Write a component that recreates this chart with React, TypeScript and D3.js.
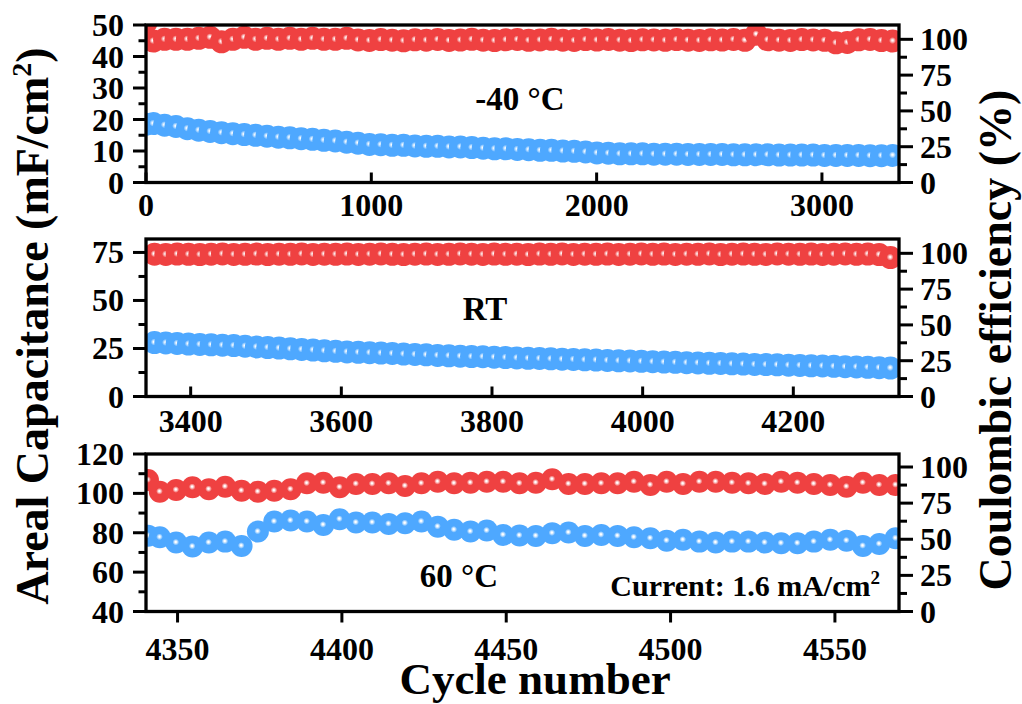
import React from "react";
import * as d3 from "d3";

const WIDTH = 1022;
const HEIGHT = 704;
const FONT = '"Liberation Serif", "Times New Roman", serif';
const RED = "#ef4141";
const BLUE = "#4ea8ff";

const PLOT_L = 146;
const PLOT_R = 899;
const PANEL_H = 157.5;

// ---- -40 °C segment ----
const coldCycles = [1, ...d3.range(66).map((i) => 32 + 50.5 * i)];
const coldCapacitance = [
  18.5, 18.7, 18.2, 17.8, 17.1, 16.6, 16.2, 15.8, 15.5, 15.2, 15.0,
  14.7, 14.4, 14.2, 13.9, 13.7, 13.4, 13.2, 12.8, 12.5, 12.1,
  12.0, 11.8, 11.8, 11.6, 11.5, 11.5, 11.3, 11.3, 11.1, 10.9,
  10.7, 10.7, 10.5, 10.4, 10.2, 10.2, 10.0, 9.9, 9.7, 9.4,
  9.3, 9.1, 9.1, 9.1,
  9.0, 9.0, 9.0, 8.9, 8.9, 8.9, 8.9, 8.8, 8.8, 8.8,
  8.8, 8.7, 8.7, 8.7, 8.7, 8.6, 8.6, 8.6, 8.6, 8.5,
  8.5, 8.6,
];
const coldEfficiency = [
  112,
  98.8, 100, 100, 100, 100.7, 101.4, 98.3, 100, 101.4, 100,
  100.7, 100, 100.7, 100, 100.7, 100, 100, 100.7,
  99.6, 99.2, 99.8, 99.4, 99.0, 99.7, 99.4, 99.9, 99.2, 99.5,
  100.0, 99.4, 99.1, 99.7, 99.9, 99.3, 99.6, 100.0, 99.4, 99.2,
  99.8, 99.5, 99.9, 99.4, 99.1, 99.7, 99.6, 99.3, 99.8, 99.4,
  99.2, 99.7, 99.5, 99.9, 99.3, 103.5, 99.7, 99.4, 99.2, 99.8,
  99.6, 99.3, 97.6, 97.8, 99.7, 99.9, 99.1, 98.8,
];

// ---- room-temperature segment ----
const rtCycles = d3.range(66).map((i) => 3352 + 15.03 * i);
const rtCapacitance = [
  28.1, 27.9, 27.6, 27.3, 27.1, 26.9, 26.7, 26.5, 26.2, 25.8,
  25.5, 25.2, 24.8, 24.5, 24.2, 23.8, 23.5, 23.2, 23.0, 22.8,
  22.6, 22.4, 22.1, 21.9, 21.7, 21.4, 21.2, 21.0, 20.8, 20.7,
  20.5, 20.3, 20.1, 19.9, 19.8, 19.6, 19.4, 19.3, 19.1, 19.0,
  18.8, 18.6, 18.5, 18.3, 18.1, 17.9, 17.8, 17.6, 17.5, 17.3,
  17.2, 17.0, 16.9, 16.7, 16.6, 16.5, 16.3, 16.2, 16.0, 15.9,
  15.7, 15.5, 15.4, 15.2, 15.0, 14.8,
];
const rtEfficiency = [
  99.4, 99.2, 99.5, 99.3, 99.1, 99.4, 99.6, 99.2, 99.3, 99.5,
  99.1, 99.4, 99.3, 99.6, 99.2, 99.4, 99.3, 99.5, 99.2, 99.4,
  99.6, 99.3, 99.1, 99.4, 99.5, 99.2, 99.3, 99.6, 99.4, 99.2,
  99.5, 99.3, 99.4, 99.1, 99.5, 99.3, 99.6, 99.2, 99.4, 99.3,
  99.5, 99.2, 99.4, 99.6, 99.3, 99.5, 99.2, 99.4, 99.3, 99.6,
  99.1, 99.4, 99.5, 99.3, 99.2, 99.6, 99.4, 99.3, 99.5, 99.2,
  99.4, 99.6, 99.3, 99.5, 99.1, 97.0,
];

// ---- 60 °C segment ----
const hotCycles = [4341, ...d3.range(46).map((i) => 4344.6 + 4.975 * i)];
const hotCapacitance = [
  78.5, 77.7, 75.0, 73.0, 75.0, 75.5, 73.3, 80.6, 85.7, 86.2,
  85.7, 84.0, 86.9, 85.2, 85.2, 84.5, 84.8, 85.7, 83.1, 81.5,
  80.6, 81.1, 78.9, 78.6,
  78.4, 79.8, 80.1, 78.4, 78.9, 78.4, 77.7, 77.2, 76.0, 76.4,
  75.5, 75.0, 75.5, 75.5, 75.0, 74.7, 74.7, 75.5, 76.4, 76.0,
  73.3, 74.3, 77.2,
];
const hotEfficiency = [
  91.0, 82.9, 84.1, 86.0, 84.6, 86.4, 83.6, 82.9, 83.6, 84.6,
  88.7, 89.1, 86.0, 88.3, 88.3, 88.7, 86.9, 88.7, 89.8, 88.7,
  89.1, 89.8, 89.8, 88.7,
  89.1, 91.5, 88.3, 88.3, 88.7, 88.7, 89.8, 87.6, 89.8, 88.3,
  89.8, 89.8, 89.1, 88.7, 88.3, 89.8, 89.1, 88.3, 87.6, 86.4,
  89.1, 87.6, 87.6,
];

// ---- axis ticks ----
const coldXTicks = [0, 1000, 2000, 3000];
const rtXTicks = [3400, 3600, 3800, 4000, 4200];
const hotXTicks = [4350, 4400, 4450, 4500, 4550];
const coldYTicks = [0, 10, 20, 30, 40, 50];
const coldYMinor = [5, 15, 25, 35, 45];
const rtYTicks = [0, 25, 50, 75];
const rtYMinor = [12.5, 37.5, 62.5];
const hotYTicks = [40, 60, 80, 100, 120];
const hotYMinor = [50, 70, 90, 110];
const ceTicks = [0, 25, 50, 75, 100];
const ceMinor = [12.5, 37.5, 62.5, 87.5];

type PanelSpec = {
  key: string;
  top: number;
  xDomain: [number, number];
  yDomain: [number, number];
  ceDomain: [number, number];
  xTicks: number[];
  yTicks: number[];
  yMinor: number[];
  xTickOutward: boolean;
  xLabelOffset: number;
  markerR: number;
  cycles: number[];
  capacitance: number[];
  efficiency: number[];
};

const panels: PanelSpec[] = [
  {
    key: "cold", top: 25, xDomain: [0, 3342], yDomain: [0, 50], ceDomain: [0, 110],
    xTicks: coldXTicks, yTicks: coldYTicks, yMinor: coldYMinor, xTickOutward: false,
    xLabelOffset: 33, markerR: 11.5,
    cycles: coldCycles, capacitance: coldCapacitance, efficiency: coldEfficiency,
  },
  {
    key: "rt", top: 239, xDomain: [3340.7, 4340.3], yDomain: [0, 82], ceDomain: [0, 110],
    xTicks: rtXTicks, yTicks: rtYTicks, yMinor: rtYMinor, xTickOutward: false,
    xLabelOffset: 35, markerR: 11.5,
    cycles: rtCycles, capacitance: rtCapacitance, efficiency: rtEfficiency,
  },
  {
    key: "hot", top: 454, xDomain: [4340.4, 4569.5], yDomain: [40, 120], ceDomain: [0, 109],
    xTicks: hotXTicks, yTicks: hotYTicks, yMinor: hotYMinor, xTickOutward: true,
    xLabelOffset: 48, markerR: 11,
    cycles: hotCycles, capacitance: hotCapacitance, efficiency: hotEfficiency,
  },
];

const TICK_FS = 32;

function Panel({ p }: { p: PanelSpec }) {
  const bottom = p.top + PANEL_H;
  const x = d3.scaleLinear().domain(p.xDomain).range([PLOT_L, PLOT_R]);
  const yL = d3.scaleLinear().domain(p.yDomain).range([bottom, p.top]);
  const yR = d3.scaleLinear().domain(p.ceDomain).range([bottom, p.top]);
  const clipId = `clip-${p.key}`;
  const tickStyle = { stroke: "#000", strokeWidth: 3 };
  return (
    <g>
      <clipPath id={clipId}>
        <rect x={PLOT_L} y={p.top} width={PLOT_R - PLOT_L} height={PANEL_H} />
      </clipPath>
      <g clipPath={`url(#${clipId})`}>
        {p.cycles.map((c, i) => (
          <circle key={`e${i}`} cx={x(c)} cy={yR(p.efficiency[i])} r={p.markerR} fill="url(#markRed)" />
        ))}
        {p.cycles.map((c, i) => (
          <circle key={`c${i}`} cx={x(c)} cy={yL(p.capacitance[i])} r={p.markerR} fill="url(#markBlue)" />
        ))}
      </g>

      {/* left axis: areal capacitance */}
      {p.yTicks.map((v) => (
        <g key={`yl${v}`}>
          <line x1={PLOT_L - 13} x2={PLOT_L} y1={yL(v)} y2={yL(v)} {...tickStyle} />
          <text x={PLOT_L - 22} y={yL(v) + 11} textAnchor="end" fontSize={TICK_FS} fontWeight="bold" fontFamily={FONT}>
            {v}
          </text>
        </g>
      ))}
      {p.yMinor.map((v) => (
        <line key={`ylm${v}`} x1={PLOT_L - 7.5} x2={PLOT_L} y1={yL(v)} y2={yL(v)} {...tickStyle} />
      ))}

      {/* right axis: coulombic efficiency */}
      {ceTicks.map((v) => (
        <g key={`yr${v}`}>
          <line x1={PLOT_R} x2={PLOT_R + 14} y1={yR(v)} y2={yR(v)} {...tickStyle} />
          <text x={PLOT_R + 21} y={yR(v) + 11} textAnchor="start" fontSize={TICK_FS} fontWeight="bold" fontFamily={FONT}>
            {v}
          </text>
        </g>
      ))}
      {ceMinor.map((v) => (
        <line key={`yrm${v}`} x1={PLOT_R} x2={PLOT_R + 8} y1={yR(v)} y2={yR(v)} {...tickStyle} />
      ))}

      {/* bottom axis: cycle number */}
      {p.xTicks.map((v) => (
        <g key={`x${v}`}>
          <line
            x1={x(v)} x2={x(v)}
            y1={bottom} y2={p.xTickOutward ? bottom + 11 : bottom - 10}
            {...tickStyle}
          />
          <text x={x(v)} y={bottom + p.xLabelOffset} textAnchor="middle" fontSize={TICK_FS} fontWeight="bold" fontFamily={FONT}>
            {v}
          </text>
        </g>
      ))}

      <rect x={PLOT_L} y={p.top} width={PLOT_R - PLOT_L} height={PANEL_H} fill="none" stroke="#000" strokeWidth={3.3} />
    </g>
  );
}

// Solid disc with a small soft white glint in the middle
function Gradient({ id, color }: { id: string; color: string }) {
  return (
    <radialGradient id={id} cx="50%" cy="50%" r="50%" fx="48%" fy="47%">
      <stop offset="0%" stopColor="#ffffff" />
      <stop offset="6%" stopColor="#ffffff" stopOpacity={0.9} />
      <stop offset="30%" stopColor={color} />
      <stop offset="100%" stopColor={color} />
    </radialGradient>
  );
}

export default function App() {
  return (
    <svg
      width={WIDTH}
      height={HEIGHT}
      viewBox={`0 0 ${WIDTH} ${HEIGHT}`}
      style={{ position: "absolute", left: 0, top: 0, background: "#fff" }}
    >
      <defs>
        <Gradient id="markRed" color={RED} />
        <Gradient id="markBlue" color={BLUE} />
      </defs>
      <rect width={WIDTH} height={HEIGHT} fill="#fff" />

      {panels.map((p) => (
        <Panel key={p.key} p={p} />
      ))}

      {/* panel annotations */}
      <text x={520} y={110} textAnchor="middle" fontSize={33} fontWeight="bold" fontFamily={FONT}>
        -40 °C
      </text>
      <text x={485} y={320} textAnchor="middle" fontSize={33} fontWeight="bold" fontFamily={FONT}>
        RT
      </text>
      <text x={459} y={587} textAnchor="middle" fontSize={33} fontWeight="bold" fontFamily={FONT}>
        60 °C
      </text>
      <text x={880} y={596} textAnchor="end" fontSize={30} fontWeight="bold" fontFamily={FONT}>
        Current: 1.6 mA/cm<tspan dy={-12} fontSize={19}>2</tspan>
      </text>

      {/* axis titles */}
      <text
        transform="translate(48, 326) rotate(-90)"
        textAnchor="middle" fontSize={46} fontWeight="bold" fontFamily={FONT}
      >
        Areal Capacitance (mF/cm<tspan dy={-17} fontSize={28}>2</tspan><tspan dy={17}>)</tspan>
      </text>
      <text
        transform="translate(1011, 340) rotate(-90)"
        textAnchor="middle" fontSize={46} fontWeight="bold" fontFamily={FONT}
      >
        Coulombic efficiency (%)
      </text>
      <text x={535} y={694} textAnchor="middle" fontSize={45} fontWeight="bold" fontFamily={FONT}>
        Cycle number
      </text>
    </svg>
  );
}
